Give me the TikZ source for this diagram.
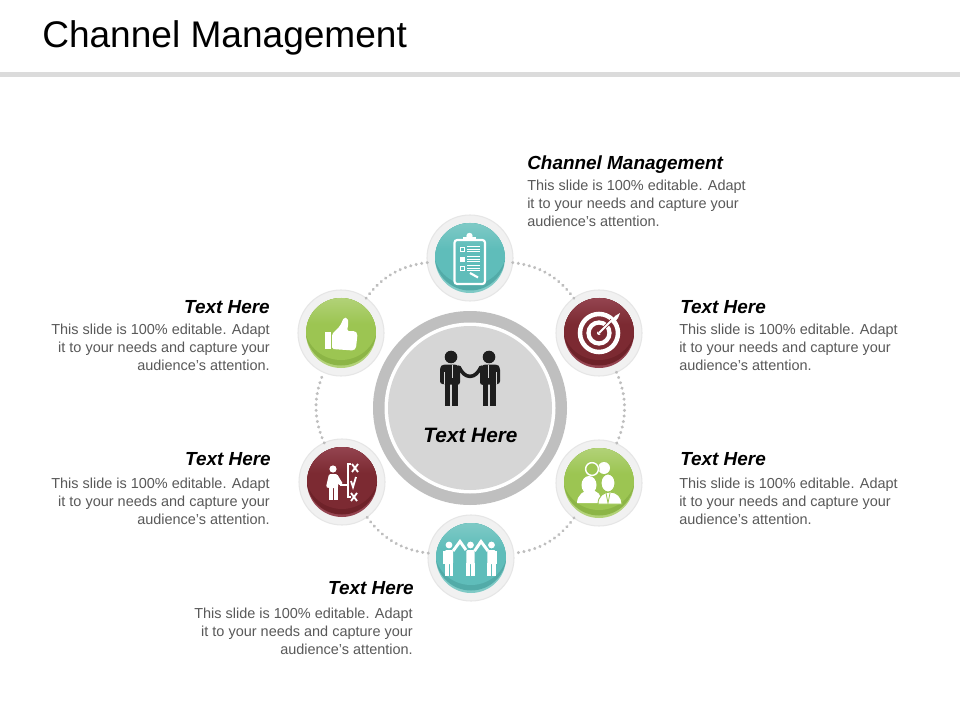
\documentclass[tikz,border=0pt]{standalone}
\usepackage{fontspec}
\setmainfont{Liberation Sans}
\definecolor{tealc}{HTML}{5FBDBA}
\definecolor{tealh}{HTML}{7FCAC6}
\definecolor{teald}{HTML}{52ABA8}
\definecolor{marc}{HTML}{7C2A32}
\definecolor{marh}{HTML}{944450}
\definecolor{mard}{HTML}{6E2229}
\definecolor{grnc}{HTML}{9CC552}
\definecolor{grnh}{HTML}{B2D278}
\definecolor{grnd}{HTML}{8CB546}
\definecolor{icn}{HTML}{1E1E1E}
\definecolor{F1}{HTML}{F1F1F1}
\definecolor{F2}{HTML}{E6E6E6}
\definecolor{G1}{HTML}{BEBEBE}
\definecolor{T1}{HTML}{595959}
\tikzset{
  ringnode/.style={circle,minimum size=86*0.75pt,inner sep=0pt,outer sep=0pt,fill=F1,draw=F2,line width=0.8pt},
  link/.style={draw=G1,line width=2.5pt,line cap=round,dash pattern=on 0.01pt off 4.2pt,bend left=24,looseness=0.95},
  headtxt/.style={font=\fontsize{14.2pt}{16pt}\selectfont\bfseries\itshape,inner sep=0pt,text=black},
  hubtxtstyle/.style={font=\fontsize{15.6pt}{18pt}\selectfont\bfseries\itshape,inner sep=0pt,text=black},
  bodytxt/.style={font=\fontsize{10.85pt}{13.35pt}\selectfont,inner sep=0pt,text=T1},
}
\newcommand{\glossdisc}[4]{%
  \fill[#3] (#1) circle (35);
  \begin{scope}
    \clip (#1) circle (35);
    \fill[#4] ([yshift=2.25pt]#1) circle (35.5);
    \fill[#2] ([yshift=7.5pt]#1) circle (37);
    \shade[top color=#3,bottom color=#2] ([shift={(-36pt,26.5pt)}]#1) rectangle ([shift={(36pt,7pt)}]#1);
  \end{scope}}
\begin{document}
\begin{tikzpicture}[x=0.75pt,y=-0.75pt]
\useasboundingbox (0,0) rectangle (960,720);
\fill[white] (0,0) rectangle (960,720);
\node[anchor=west,inner sep=0pt,font=\fontsize{27.8pt}{30pt}\selectfont,text=black] (title) at (42,38) {Channel Management};
\fill[black!14] (0,72) rectangle (960,77);

% ring nodes
\node[ringnode] (n1) at (470,258) {};
\node[ringnode] (n2) at (599,333) {};
\node[ringnode] (n3) at (599,483) {};
\node[ringnode] (n4) at (471,558) {};
\node[ringnode] (n5) at (342,482) {};
\node[ringnode] (n6) at (341,333) {};
\path[link] (n1) to (n2);
\path[link] (n2) to (n3);
\path[link] (n3) to (n4);
\path[link] (n4) to (n5);
\path[link] (n5) to (n6);
\path[link] (n6) to (n1);

\glossdisc{n1}{tealc}{tealh}{teald}
\glossdisc{n2}{marc}{marh}{mard}
\glossdisc{n3}{grnc}{grnh}{grnd}
\glossdisc{n4}{tealc}{tealh}{teald}
\glossdisc{n5}{marc}{marh}{mard}
\glossdisc{n6}{grnc}{grnh}{grnd}

% centre
\node[circle,minimum size=194*0.75pt,inner sep=0pt,fill=black!25] (hub) at (470,408) {};
\fill[white] (hub) circle (85.5);
\fill[black!16] (hub) circle (82);

% handshake icon
\foreach \cx/\sgn in {451/1,489/-1}{
  \begin{scope}[shift={(\cx,0)},xscale=\sgn]
    \fill[icn] (0,357) circle (6.3);
    \fill[icn,rounded corners=2pt] (-11,384) -- (-11,367) -- (-8,364.5) -- (6,364.5) -- (9,368) -- (9,385) -- cycle;
    \fill[icn] (-6.5,384) rectangle (-0.6,406);
    \fill[icn] (0.6,384) rectangle (6.5,406);
    \draw[black!16,line width=0.5pt] (-7,372) -- (-7,384);
    \draw[black!16,line width=0.5pt] (1,365) -- (1,378);
    \draw[icn,line width=2.7pt,line cap=round] (8,367) .. controls (11,373) and (14,376) .. (19,376.5);
  \end{scope}}

% clipboard icon
\begin{scope}
  \draw[white,line width=1.6pt,rounded corners=2pt] (454.5,240) rectangle (485,284);
  \fill[white] (463,237) rectangle (476,241);
  \fill[white] (469.5,236) circle (3.2);
  \foreach \yy in {249,259,268}{
    \draw[white,line width=0.6pt] (460,\yy-2) rectangle (464,\yy+2);
    \foreach \d in {-2.4,0,2.4}{\draw[white,line width=0.7pt] (467,\yy+\d) -- (480,\yy+\d);}
  }
  \fill[white] (460,257) rectangle (464,261);
  \draw[white,line width=1.6pt] (470,273) -- (478,277.5);
\end{scope}

% target icon
\begin{scope}[shift={(599,333)}]
  \draw[white,line width=3.4pt] (0,0) circle (19);
  \draw[white,line width=3.2pt] (0,0) circle (10.5);
  \fill[white] (0,0) circle (2);
  \draw[marc,line width=2.6pt] (0,0) -- (13,-13);
  \draw[white,line width=1.4pt] (0,0) -- (14,-14);
  \fill[white] (12,-11) -- (16,-17) -- (21,-20) -- (19,-15) -- (14,-9) -- cycle;
\end{scope}

% people icon (green)
\begin{scope}
  \fill[white] (604,468) circle (6);
  \fill[grnc] (592,469) circle (7.6);
  \draw[white,line width=1.1pt] (592,469) circle (6.4);
  \fill[white] (589,485) ellipse (7.5 and 9);
  \fill[white] (577,503) .. controls (577,495) and (584,490) .. (590,490) .. controls (597,490) and (602,495) .. (602,503) -- cycle;
  \fill[white,draw=grnc,line width=0.7pt] (598,504) .. controls (598,496) and (604,492) .. (610,492) .. controls (617,492) and (622,497) .. (622,504) -- cycle;
  \fill[white,draw=grnc,line width=0.7pt] (608,483) ellipse (7 and 9);
  \draw[grnc,line width=0.6pt] (606,493) -- (608,503) -- (610,493);
\end{scope}

% team icon (teal)
\foreach \fx in {449,470.5,491.5}{
  \begin{scope}[shift={(\fx,0)}]
    \fill[white] (0,545) circle (3.4);
    \fill[white,rounded corners=1pt] (-4.2,550) rectangle (4.2,564);
    \fill[white] (-4.2,563) rectangle (-0.5,576);
    \fill[white] (0.5,563) rectangle (4.2,576);
  \end{scope}}
\draw[white,line width=2.2pt] (453,551) -- (460,541.5) -- (466,550);
\draw[white,line width=2.2pt] (474.5,551) -- (481,541.5) -- (488,551);
\draw[white,line width=2pt] (444.5,551) -- (444.5,564);
\draw[white,line width=2pt] (496,551) -- (496,564);

% decision icon
\begin{scope}
  \fill[white] (333,469) circle (3.6);
  \fill[white,rounded corners=1pt] (326,487) -- (329,474) -- (337,474) -- (343,484) -- (340,486) -- (338,483) -- (338,488) -- (328,488) -- cycle;
  \fill[white] (329,487) rectangle (332.5,500);
  \fill[white] (334,487) rectangle (337.5,500);
  \draw[white,line width=0.8pt] (340,485) -- (347,485);
  \draw[white,line width=0.9pt] (351,464) -- (348,464) -- (348,497) -- (351,497);
  \draw[white,line width=1.4pt] (352,464) -- (358,472) (358,464) -- (352,472);
  \draw[white,line width=1.4pt] (351,481) -- (353,487) -- (356,477);
  \draw[white,line width=1.4pt] (351,493) -- (357,501) (357,493) -- (351,501);
\end{scope}

% thumb icon
\begin{scope}
  \fill[white] (325,332) rectangle (331,349);
  \fill[white,rounded corners=1.2pt] (332,334) -- (340,326) -- (344,317.5) -- (347.5,318) -- (348.5,323) -- (347,331) -- (355,331) -- (357.5,334) -- (356,348) -- (353.5,350.5) -- (332,349) -- cycle;
\end{scope}

% texts
\node[hubtxtstyle,anchor=center] (hubtxt) at (470.5,435) {Text Here};

\node[headtxt,anchor=west] (h1) at (527,164.5) {Channel Management};
\node[bodytxt,anchor=west,align=left] (b1) at (527,203.5) {This slide is 100\% editable. Adapt\\it to your needs and capture your\\audience's attention.};

\node[headtxt,anchor=west] (h2) at (680,307) {Text Here};
\node[bodytxt,anchor=west,align=left] (b2) at (679,347.5) {This slide is 100\% editable. Adapt\\it to your needs and capture your\\audience's attention.};

\node[headtxt,anchor=west] (h3) at (680,459) {Text Here};
\node[bodytxt,anchor=west,align=left] (b3) at (679,501.5) {This slide is 100\% editable. Adapt\\it to your needs and capture your\\audience's attention.};

\node[headtxt,anchor=east] (h6) at (270,307) {Text Here};
\node[bodytxt,anchor=east,align=right] (b6) at (270,347.5) {This slide is 100\% editable. Adapt\\it to your needs and capture your\\audience's attention.};

\node[headtxt,anchor=east] (h5) at (271,459) {Text Here};
\node[bodytxt,anchor=east,align=right] (b5) at (270,501.5) {This slide is 100\% editable. Adapt\\it to your needs and capture your\\audience's attention.};

\node[headtxt,anchor=east] (h4) at (414,588) {Text Here};
\node[bodytxt,anchor=east,align=right] (b4) at (413,631.5) {This slide is 100\% editable. Adapt\\it to your needs and capture your\\audience's attention.};
\end{tikzpicture}
\end{document}
